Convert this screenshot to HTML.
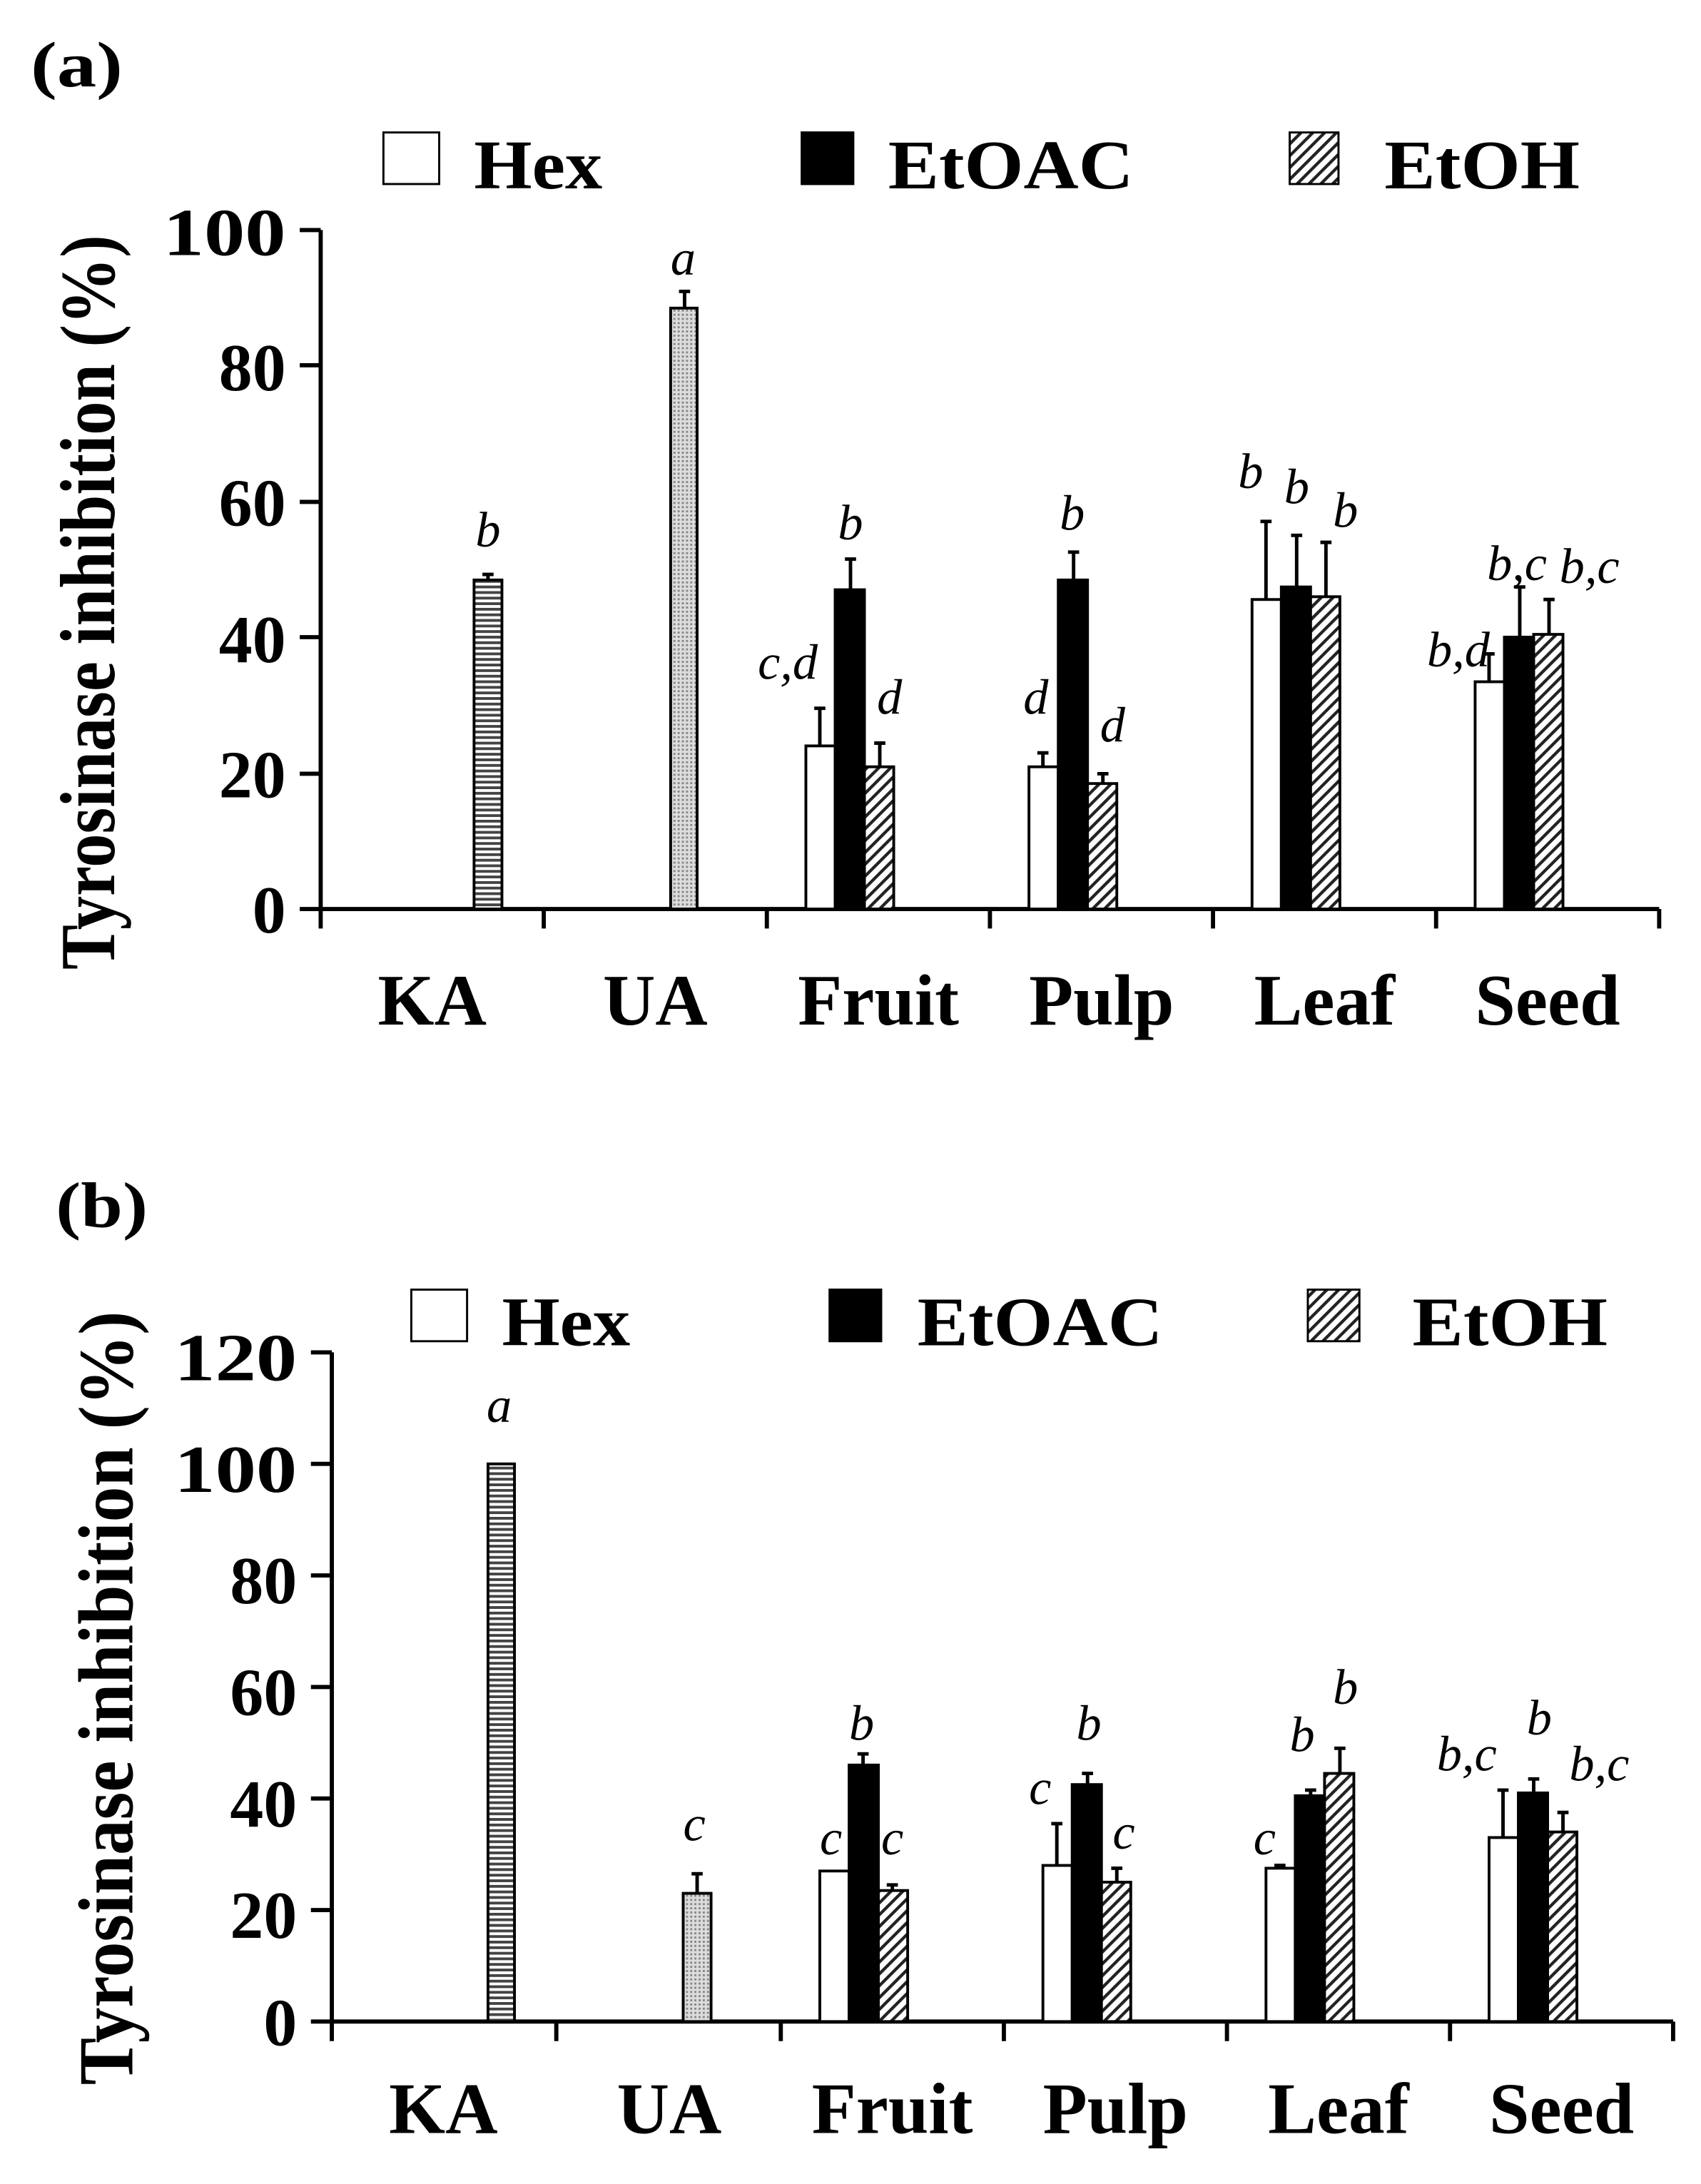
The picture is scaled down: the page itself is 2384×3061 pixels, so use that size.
<!DOCTYPE html>
<html><head><meta charset="utf-8"><style>html,body{margin:0;padding:0;background:#fff}svg{display:block}</style></head>
<body>
<svg width="2384" height="3061" viewBox="0 0 1220 1566.5" preserveAspectRatio="none" xmlns="http://www.w3.org/2000/svg" font-family="'Liberation Serif',serif">
<defs>
<pattern id="hs" width="4" height="4" patternUnits="userSpaceOnUse"><rect width="4" height="4" fill="#fff"/><rect width="4" height="2" fill="#444"/></pattern>
<pattern id="dt" width="3" height="3" patternUnits="userSpaceOnUse"><rect width="3" height="3" fill="#ddd"/><rect width="1.5" height="1.5" fill="#888"/></pattern>
<pattern id="dg" width="6" height="6" patternUnits="userSpaceOnUse" patternTransform="rotate(45)"><rect width="6" height="6" fill="#fff"/><rect width="2.2" height="6" fill="#222"/></pattern>
</defs>
<g font-weight="bold" fill="#000">
<text x="22" y="62" font-size="46" textLength="66" lengthAdjust="spacingAndGlyphs">(a)</text>
<text x="40" y="880" font-size="46" textLength="66" lengthAdjust="spacingAndGlyphs">(b)</text>
<text transform="translate(82,432) rotate(-90)" text-anchor="middle" font-size="56" textLength="527" lengthAdjust="spacingAndGlyphs">Tyrosinase inhibition (%)</text>
<text transform="translate(95,1218) rotate(-90)" text-anchor="middle" font-size="56" textLength="555" lengthAdjust="spacingAndGlyphs">Tyrosinase inhibition (%)</text>
<text x="340" y="135" font-size="50" textLength="92" lengthAdjust="spacingAndGlyphs">Hex</text>
<text x="637" y="135" font-size="50" textLength="176" lengthAdjust="spacingAndGlyphs">EtOAC</text>
<text x="993" y="135" font-size="50" textLength="140" lengthAdjust="spacingAndGlyphs">EtOH</text>
<text x="360" y="965" font-size="50" textLength="92" lengthAdjust="spacingAndGlyphs">Hex</text>
<text x="658" y="965" font-size="50" textLength="176" lengthAdjust="spacingAndGlyphs">EtOAC</text>
<text x="1013" y="965" font-size="50" textLength="140" lengthAdjust="spacingAndGlyphs">EtOH</text>
<g font-size="48" text-anchor="end">
<text x="205" y="183" textLength="88" lengthAdjust="spacingAndGlyphs">100</text>
<text x="205" y="280">80</text><text x="205" y="377">60</text><text x="205" y="475">40</text><text x="205" y="572">20</text><text x="205" y="669">0</text>
<text x="213" y="990" textLength="88" lengthAdjust="spacingAndGlyphs">120</text>
<text x="213" y="1070" textLength="88" lengthAdjust="spacingAndGlyphs">100</text>
<text x="213" y="1150">80</text><text x="213" y="1230">60</text><text x="213" y="1310">40</text><text x="213" y="1390">20</text><text x="213" y="1467">0</text>
</g>
<g font-size="52" text-anchor="middle">
<text x="310" y="735">KA</text><text x="470" y="735">UA</text><text x="630" y="735">Fruit</text><text x="790" y="735">Pulp</text><text x="950" y="735">Leaf</text><text x="1110" y="735">Seed</text>
<text x="318" y="1530">KA</text><text x="480" y="1530">UA</text><text x="640" y="1530">Fruit</text><text x="800" y="1530">Pulp</text><text x="960" y="1530">Leaf</text><text x="1120" y="1530">Seed</text>
</g>
</g>
<g stroke="#000" stroke-width="1.5">
<rect x="275" y="95" width="40" height="37" fill="#fff"/>
<rect x="575" y="95" width="37" height="37" fill="#000"/>
<rect x="925" y="95" width="35" height="37" fill="url(#dg)"/>
<rect x="295" y="925" width="40" height="37" fill="#fff"/>
<rect x="595" y="925" width="37" height="37" fill="#000"/>
<rect x="938" y="925" width="37" height="37" fill="url(#dg)"/>
</g>
<g stroke="#000" stroke-width="3" fill="none">
<path d="M230 165V652H1190M215 165H230M215 262H230M215 360H230M215 457H230M215 555H230M215 652H230M230 652V666M390 652V666M550 652V666M710 652V666M870 652V666M1030 652V666M1190 652V666"/>
<path d="M238 970V1450H1200M223 970H238M223 1050H238M223 1130H238M223 1210H238M223 1290H238M223 1370H238M223 1450H238M238 1450V1464M399 1450V1464M560 1450V1464M720 1450V1464M880 1450V1464M1040 1450V1464M1200 1450V1464"/>
</g>
<g stroke="#000" stroke-width="2.5" fill="none">
<path d="M350 416V412M346 412H354M491 221V209M487 209H495
M588 535V508M584 508H592M610 423V401M606 401H614M631 550V533M627 533H635
M748 550V540M744 540H752M770 416V396M766 396H774M791 562V555M787 555H795
M908 430V374M904 374H912M930 421V384M926 384H934M951 428V389M947 389H955
M1068 489V469M1064 469H1072M1090 457V421M1086 421H1094M1111 455V430M1107 430H1115"/>
<path d="M500 1358V1344M496 1344H504
M619 1266V1258M615 1258H623M640 1356V1352M636 1352H644
M758 1338V1308M754 1308H762M780 1280V1272M776 1272H784M801 1350V1340M797 1340H805
M918 1340V1338M914 1338H922M940 1288V1284M936 1284H944M961 1272V1254M957 1254H965
M1078 1318V1284M1074 1284H1082M1100 1286V1276M1096 1276H1104M1121 1314V1300M1117 1300H1125"/>
</g>
<g stroke="#000" stroke-width="2">
<rect x="340" y="416" width="20" height="236" fill="url(#hs)"/>
<rect x="481" y="221" width="19" height="431" fill="url(#dt)"/>
<rect x="578" y="535" width="21" height="117" fill="#fff"/><rect x="599" y="423" width="21" height="229" fill="#000"/><rect x="620" y="550" width="21" height="102" fill="url(#dg)"/>
<rect x="738" y="550" width="21" height="102" fill="#fff"/><rect x="759" y="416" width="21" height="236" fill="#000"/><rect x="780" y="562" width="21" height="90" fill="url(#dg)"/>
<rect x="898" y="430" width="21" height="222" fill="#fff"/><rect x="919" y="421" width="21" height="231" fill="#000"/><rect x="940" y="428" width="21" height="224" fill="url(#dg)"/>
<rect x="1058" y="489" width="21" height="163" fill="#fff"/><rect x="1079" y="457" width="21" height="195" fill="#000"/><rect x="1100" y="455" width="21" height="197" fill="url(#dg)"/>
<rect x="350" y="1050" width="19" height="400" fill="url(#hs)"/>
<rect x="490" y="1358" width="20" height="92" fill="url(#dt)"/>
<rect x="588" y="1342" width="21" height="108" fill="#fff"/><rect x="609" y="1266" width="21" height="184" fill="#000"/><rect x="630" y="1356" width="21" height="94" fill="url(#dg)"/>
<rect x="748" y="1338" width="21" height="112" fill="#fff"/><rect x="769" y="1280" width="21" height="170" fill="#000"/><rect x="790" y="1350" width="21" height="100" fill="url(#dg)"/>
<rect x="908" y="1340" width="21" height="110" fill="#fff"/><rect x="929" y="1288" width="21" height="162" fill="#000"/><rect x="950" y="1272" width="21" height="178" fill="url(#dg)"/>
<rect x="1068" y="1318" width="21" height="132" fill="#fff"/><rect x="1089" y="1286" width="21" height="164" fill="#000"/><rect x="1110" y="1314" width="21" height="136" fill="url(#dg)"/>
</g>
<g font-style="italic" font-size="36" text-anchor="middle">
<text x="350" y="392">b</text><text x="490" y="197">a</text>
<text x="565" y="487">c,d</text><text x="610" y="387">b</text><text x="638" y="512">d</text>
<text x="743" y="512">d</text><text x="769" y="380">b</text><text x="798" y="532">d</text>
<text x="897" y="350">b</text><text x="930" y="361">b</text><text x="965" y="378">b</text>
<text x="1046" y="478">b,d</text><text x="1088" y="416">b,c</text><text x="1140" y="418">b,c</text>
<text x="358" y="1020">a</text><text x="498" y="1320">c</text>
<text x="596" y="1330">c</text><text x="618" y="1248">b</text><text x="640" y="1330">c</text>
<text x="746" y="1294">c</text><text x="781" y="1248">b</text><text x="806" y="1326">c</text>
<text x="907" y="1330">c</text><text x="934" y="1256">b</text><text x="965" y="1222">b</text>
<text x="1052" y="1270">b,c</text><text x="1104" y="1244">b</text><text x="1147" y="1277">b,c</text>
</g>
</svg>
</body></html>
